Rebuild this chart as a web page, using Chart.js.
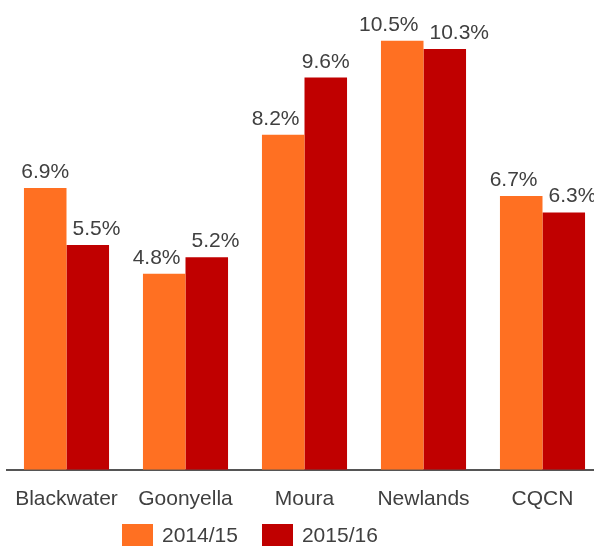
<!DOCTYPE html>
<html>
<head>
<meta charset="utf-8">
<script src="https://cdn.jsdelivr.net/npm/chart.js@4"></script>
<style>
  html, body { margin: 0; padding: 0; background: #fff; overflow: hidden; }
  #wrap { position: relative; width: 602px; height: 546px; }
  #legend { position: absolute; left: 122px; top: 523px; display: flex; align-items: center;
            font-family: "Liberation Sans", Arial, sans-serif; font-size: 21px; color: #404040; }
  #legend span.box { display: inline-block; width: 31px; height: 23px; margin-right: 9px; }
  #legend span.item { display: flex; align-items: center; margin-right: 24px; }
</style>
</head>
<body>
<div id="wrap">
  <canvas id="myChart" width="602" height="546"></canvas>
  <div id="legend"></div>
</div>
<script>
// data
var categories = ['Blackwater', 'Goonyella', 'Moura', 'Newlands', 'CQCN'];
var seriesNames = ['2014/15', '2015/16'];
var values1415 = [6.9, 4.8, 8.2, 10.5, 6.7];
var values1516 = [5.5, 5.2, 9.6, 10.3, 6.3];
var colors = ['#FF7022', '#C00000'];

function overlaps(a, b) {
  return a.l < b.r && b.l < a.r && a.t < b.b && b.t < a.b;
}

// value labels above bars, moved sideways when they would hit the other bar or label
var barLabels = {
  id: 'barLabels',
  afterDatasetsDraw: function (chart) {
    var ctx = chart.ctx;
    var fs = 21, gap = 10;
    ctx.save();
    ctx.font = fs + 'px "Liberation Sans", Arial, sans-serif';
    ctx.fillStyle = '#404040';
    ctx.textBaseline = 'alphabetic';
    var m0 = chart.getDatasetMeta(0).data;
    var m1 = chart.getDatasetMeta(1).data;
    var d0 = chart.data.datasets[0].data;
    var d1 = chart.data.datasets[1].data;
    for (var j = 0; j < m0.length; j++) {
      var bars = [m0[j], m1[j]];
      var texts = [d0[j].toFixed(1) + '%', d1[j].toFixed(1) + '%'];
      var boxes = bars.map(function (bar, i) {
        var w = ctx.measureText(texts[i]).width;
        return { l: bar.x - w / 2, r: bar.x + w / 2, t: bar.y - gap - fs, b: bar.y - gap + 6 };
      });
      var rects = bars.map(function (bar) {
        return { l: bar.x - bar.width / 2, r: bar.x + bar.width / 2, t: bar.y, b: bar.base };
      });
      var clash = overlaps(boxes[0], boxes[1]);
      for (var i = 0; i < 2; i++) {
        var bar = bars[i];
        var shift = clash || overlaps(boxes[i], rects[1 - i]);
        if (!shift) {
          ctx.textAlign = 'center';
          ctx.fillText(texts[i], bar.x, bar.y - gap);
        } else if (i === 0) {
          ctx.textAlign = 'right';
          ctx.fillText(texts[i], bar.x + bar.width / 2 - 5, bar.y - gap);
        } else {
          ctx.textAlign = 'left';
          ctx.fillText(texts[i], bar.x - bar.width / 2 + 6, bar.y - gap);
        }
      }
    }
    ctx.restore();
  }
};

var ctx = document.getElementById('myChart').getContext('2d');
var myChart = new Chart(ctx, {
  type: 'bar',
  data: {
    labels: categories,
    datasets: [{
      label: seriesNames[0],
      data: values1415,
      backgroundColor: colors[0]
    },
    {
      label: seriesNames[1],
      data: values1516,
      backgroundColor: colors[1]
    }]
  },
  options: {
    responsive: false,
    animation: false,
    layout: { padding: { left: 7, right: 0, top: 0, bottom: 25 } },
    datasets: { bar: { categoryPercentage: 0.715, barPercentage: 1 } },
    plugins: {
      legend: { display: false },
      tooltip: { enabled: false }
    },
    scales: {
      x: {
        grid: { display: false },
        border: { display: true, color: '#555', width: 2 },
        ticks: {
          color: '#404040',
          padding: 9,
          font: { family: '"Liberation Sans", Arial, sans-serif', size: 21 }
        }
      },
      y: {
        display: false,
        min: 0,
        max: 11.5
      }
    }
  },
  plugins: [barLabels]
});

// legend built from the datasets
var legend = document.getElementById('legend');
myChart.data.datasets.forEach(function (ds) {
  var item = document.createElement('span');
  item.className = 'item';
  var box = document.createElement('span');
  box.className = 'box';
  box.style.background = ds.backgroundColor;
  item.appendChild(box);
  item.appendChild(document.createTextNode(ds.label));
  legend.appendChild(item);
});
</script>
</body>
</html>
